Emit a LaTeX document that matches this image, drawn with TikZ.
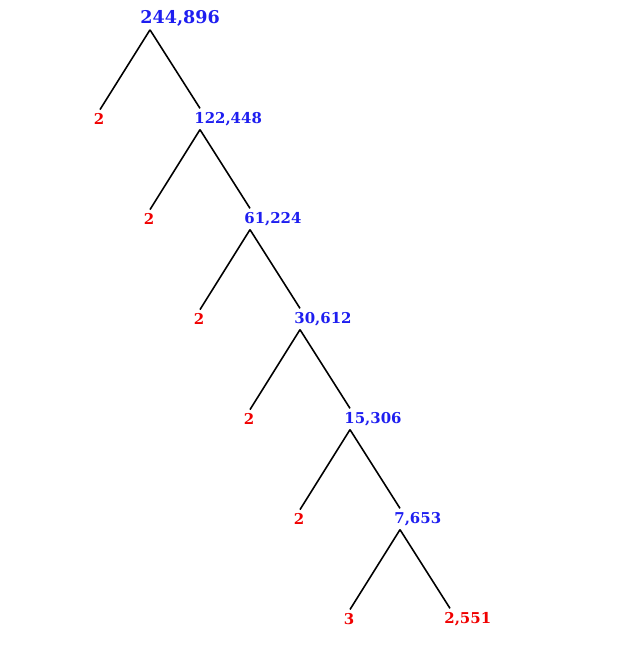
\documentclass[tikz,border=0pt]{standalone}
\usepackage{fontspec}
\setmainfont{DejaVu Serif}
\usepackage{tikz}
\definecolor{numblue}{RGB}{30,30,240}
\definecolor{numred}{RGB}{240,0,0}
\tikzset{
  num/.style={anchor=west, inner sep=2pt, font=\bfseries\fontsize{8.5}{10}\selectfont, text=numblue},
  leaf/.style={num, text=numred},
  top/.style={num, font=\bfseries\fontsize{10}{12}\selectfont},
  branch/.style={line width=0.9pt}
}
\begin{document}
\begin{tikzpicture}[x=0.02cm, y=-0.02cm]
    			\useasboundingbox (0,0) rectangle (625,655);
    			\node[top] (N0) at (136.5, 18) {244,896};
    			\node[leaf] (L1) at (90, 119) {2};
    			\node[num] (N1) at (190.5, 119) {122,448};
    			\node[leaf] (L2) at (140, 219) {2};
    			\node[num] (N2) at (240.5, 219) {61,224};
    			\node[leaf] (L3) at (190, 319) {2};
    			\node[num] (N3) at (290.5, 319) {30,612};
    			\node[leaf] (L4) at (240, 419) {2};
    			\node[num] (N4) at (340.5, 419) {15,306};
    			\node[leaf] (L5) at (290, 519) {2};
    			\node[num] (N5) at (390.5, 519) {7,653};
    			\node[leaf] (L6) at (340, 619) {3};
    			\node[leaf] (R6) at (440.5, 619) {2,551};
    			\draw[branch] ([xshift=0.27cm]N0.south west) -- ([xshift=0.2cm]L1.north west);
    			\draw[branch] ([xshift=0.27cm]N0.south west) -- ([xshift=0.19cm]N1.north west);
    			\draw[branch] ([xshift=0.19cm]N1.south west) -- ([xshift=0.2cm]L2.north west);
    			\draw[branch] ([xshift=0.19cm]N1.south west) -- ([xshift=0.19cm]N2.north west);
    			\draw[branch] ([xshift=0.19cm]N2.south west) -- ([xshift=0.2cm]L3.north west);
    			\draw[branch] ([xshift=0.19cm]N2.south west) -- ([xshift=0.19cm]N3.north west);
    			\draw[branch] ([xshift=0.19cm]N3.south west) -- ([xshift=0.2cm]L4.north west);
    			\draw[branch] ([xshift=0.19cm]N3.south west) -- ([xshift=0.19cm]N4.north west);
    			\draw[branch] ([xshift=0.19cm]N4.south west) -- ([xshift=0.2cm]L5.north west);
    			\draw[branch] ([xshift=0.19cm]N4.south west) -- ([xshift=0.19cm]N5.north west);
    			\draw[branch] ([xshift=0.19cm]N5.south west) -- ([xshift=0.2cm]L6.north west);
    			\draw[branch] ([xshift=0.19cm]N5.south west) -- ([xshift=0.19cm]R6.north west);
    		\end{tikzpicture}
\end{document}
